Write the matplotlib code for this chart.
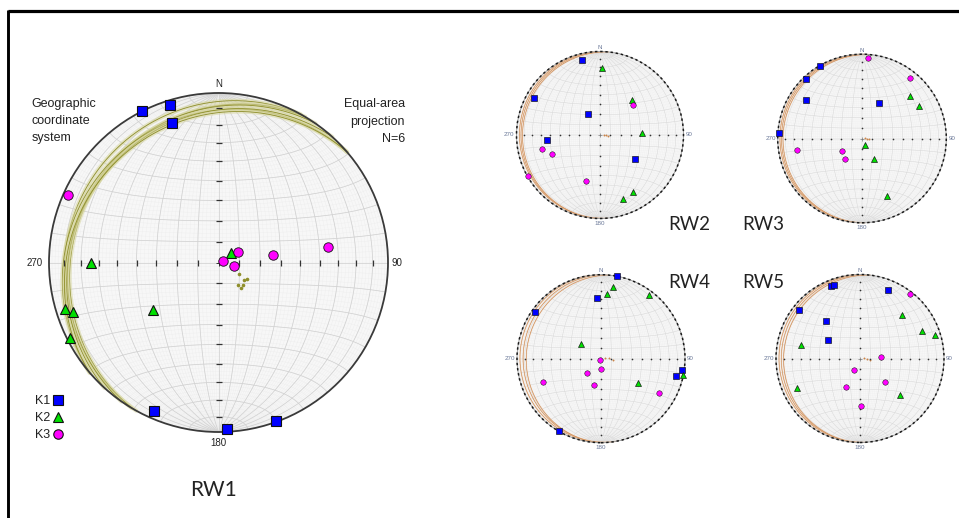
import numpy as np
import matplotlib.pyplot as plt
from matplotlib.patches import Circle

W, H = 959, 518

# principal susceptibility axes, (trend, plunge) in degrees, lower hemisphere
rw1_k1 = [(333, 0), (343, 3), (341.5, 14), (203.4, 5), (177, 2), (160, 0.5)]
rw1_k2 = [(53.6, 82.6), (269.6, 25.8), (253, 5.9), (251.2, 10.2), (243, 2), (233.9, 50.7)]
rw1_k3 = [(294.3, 3), (69, 87.6), (61.4, 79.2), (101.4, 82.3), (81.9, 63.3), (81.8, 35)]
# poles to the magnetic foliation planes
rw1_poles = [(119, 78.6), (120.8, 74.3), (124.9, 75.1), (139.5, 75.8), (132.2, 74), (139.3, 73.6)]

rw2_k1 = [(346.3, 8.2), (299.3, 11), (330.3, 66.3), (265, 36), (124.2, 47.6)]
rw2_k2 = [(2, 21.1), (42.2, 42.3), (87.7, 47.9), (150.2, 22.3), (160.1, 19)]
rw2_k3 = [(47.7, 45), (256.8, 28.9), (248.9, 37.8), (240.2, 0), (196.7, 42.3)]
rw2_poles = [(85, 86), (92, 84), (96, 82)]

rw3_k1 = [(329.9, 0), (316.8, 3.4), (304.6, 21), (25.9, 51.9), (273.5, 1.5)]
rw3_k2 = [(48.3, 24.4), (59.9, 23), (157.2, 83.4), (149.2, 66.7), (156.4, 26.8)]
rw3_k3 = [(4.5, 4.2), (38.4, 8.6), (259.8, 23.2), (238.1, 66.8), (220, 63.9)]
rw3_poles = [(88, 87), (92, 85), (95, 83)]

rw4_k1 = [(11.2, 0), (356.5, 28.8), (305.6, 4.4), (98.2, 3), (102.8, 9.6), (210.3, 0)]
rw4_k2 = [(9.2, 14.2), (5.6, 23.7), (36.9, 5.4), (306.1, 66.3), (101.3, 0), (123.6, 46.5)]
rw4_k3 = [(225, 88.6), (178, 80.4), (224.3, 70.6), (248, 26.9), (195.8, 63.7), (121, 21)]
rw4_poles = [(80, 86), (88, 82), (95, 78)]

rw5_k1 = [(338.3, 7.7), (340.8, 8.4), (22, 13.6), (308.4, 8), (318.2, 39.9), (300.7, 53.6)]
rw5_k2 = [(43.7, 29.2), (66.4, 20), (72.3, 7.4), (283.3, 28.8), (244.7, 18), (132, 35.4)]
rw5_k3 = [(37.7, 4), (86.3, 70), (205.9, 77.5), (133.8, 56.2), (205.5, 59.1), (178.4, 42.5)]
rw5_poles = [(86, 86), (92, 83), (97, 80)]


def project(trend, plunge):
    # Lambert equal-area, unit primitive
    t = np.radians(np.asarray(trend, float))
    p = np.radians(np.asarray(plunge, float))
    e, n, d = np.cos(p) * np.sin(t), np.cos(p) * np.cos(t), np.sin(p)
    return e / np.sqrt(1 + d), n / np.sqrt(1 + d)


def proj_vec(e, n, d):
    return e / np.sqrt(1 + d), n / np.sqrt(1 + d)


def plunge_radius(p):
    return np.sqrt(2) * np.sin(np.radians(90 - p) / 2)


def net_axes(fig, cx, cy, R, pad=1.35):
    ax = fig.add_axes([(cx - pad * R) / W, 1 - (cy + pad * R) / H,
                       2 * pad * R / W, 2 * pad * R / H])
    ax.set_xlim(-pad, pad)
    ax.set_ylim(-pad, pad)
    ax.axis('off')
    return ax


def draw_grid(ax, step, color, lw):
    th = np.linspace(0, np.pi, 361)
    for a in range(step, 180, step):
        ar = np.radians(a)
        # great circles through N and S
        x, y = proj_vec(np.sin(th) * np.cos(ar), np.cos(th), np.sin(th) * np.sin(ar))
        ax.plot(x, y, color=color, lw=lw, zorder=1)
        # small circles about the N-S axis
        x, y = proj_vec(np.sin(ar) * np.cos(th), np.full_like(th, np.cos(ar)), np.sin(ar) * np.sin(th))
        ax.plot(x, y, color=color, lw=lw, zorder=1)


def great_circle(trend, plunge):
    t, p = np.radians(trend), np.radians(plunge)
    th = np.linspace(0, np.pi, 361)
    s = np.array([np.cos(t), -np.sin(t), 0.0])
    u = np.array([-np.sin(p) * np.sin(t), -np.sin(p) * np.cos(t), np.cos(p)])
    v = np.outer(np.cos(th), s) + np.outer(np.sin(th), u)
    return proj_vec(v[:, 0], v[:, 1], v[:, 2])


def draw_net(ax, big):
    ax.add_patch(Circle((0, 0), 1, fc='#f7f7f7', ec='none', zorder=0))
    if big:
        draw_grid(ax, 2, '#ececec', 0.25)
        draw_grid(ax, 10, '#d2d2d2', 0.55)
    else:
        draw_grid(ax, 2, '#efefef', 0.2)
        draw_grid(ax, 10, '#d8d8d8', 0.35)
    r = plunge_radius(np.arange(10, 90, 10))
    r = np.concatenate([-r, r])
    if big:
        ax.plot(r, np.zeros_like(r), '|', color='#333333', ms=4, mew=0.9, zorder=3)
        ax.plot(np.zeros_like(r), r, '_', color='#333333', ms=4, mew=0.9, zorder=3)
        ax.plot(0, 0, '+', color='#333333', ms=5, mew=0.7, zorder=3)
    else:
        ax.plot(r, np.zeros_like(r), 'o', color='#333333', ms=1.2, mew=0, zorder=3)
        ax.plot(np.zeros_like(r), r, 'o', color='#333333', ms=1.2, mew=0, zorder=3)
        ax.plot(0, 0, '+', color='#777777', ms=3, mew=0.5, zorder=3)


def draw_planes(ax, poles, light, dark, wide, thin, dot):
    for tr, pl in poles:
        x, y = great_circle(tr, pl)
        ax.plot(x, y, color=light, lw=wide, alpha=0.55, solid_capstyle='round', zorder=2)
        ax.plot(x, y, color=dark, lw=thin, zorder=2)
        px, py = project(tr, pl)
        ax.plot(px, py, 'o', color=dark, ms=dot, mew=0, zorder=2)


def draw_axes_data(ax, k1, k2, k3, big):
    s = 1.0 if big else 0.58
    for data, mk, fc, ms, mew in [(k1, 's', '#0000ff', 7.4, 0.8),
                                  (k2, '^', '#00e000', 7.6, 0.8),
                                  (k3, 'o', '#ff00ff', 6.8, 0.6)]:
        x, y = project([d[0] for d in data], [d[1] for d in data])
        ax.plot(x, y, mk, mfc=fc, mec='#111111', ms=ms * s, mew=mew * s, ls='none', zorder=5)


fig = plt.figure(figsize=(W / 100, H / 100), dpi=100)

# frame lines and annotation layer in pixel units
bg = fig.add_axes([0, 0, 1, 1])
bg.set_xlim(0, W)
bg.set_ylim(H, 0)
bg.axis('off')
bg.plot([8, W], [11, 11], color='black', lw=2.3, solid_capstyle='butt')
bg.plot([8, 8], [10, H], color='black', lw=2.1, solid_capstyle='butt')

# large net
cx, cy, R = 218.5, 262.5, 169.5
ax1 = net_axes(fig, cx, cy, R)
draw_net(ax1, True)
draw_planes(ax1, rw1_poles, '#d6d59e', '#8e8e2a', 3.0, 0.6, 2.6)
ax1.add_patch(Circle((0, 0), 1, fc='none', ec='#3a3a3a', lw=1.3, zorder=4))
draw_axes_data(ax1, rw1_k1, rw1_k2, rw1_k3, True)

lab = dict(family='Liberation Sans', fontsize=7, color='#222222')
bg.text(cx, 84, 'N', ha='center', va='center', **lab)
bg.text(cx - R - 6, cy, '270', ha='right', va='center', **lab)
bg.text(cx + R + 4, cy, '90', ha='left', va='center', **lab)
bg.text(cx, 443, '180', ha='center', va='center', **lab)

txt = dict(family='Liberation Sans', fontsize=9, color='#222222', va='baseline')
for i, line in enumerate(['Geographic', 'coordinate', 'system']):
    bg.text(31.5, 107.5 + 17 * i, line, ha='left', **txt)
for i, line in enumerate(['Equal-area', 'projection', 'N=6']):
    bg.text(405, 107.5 + 17 * i, line, ha='right', **txt)

# legend keys
for i, (name, mk, fc, ms) in enumerate([('K1', 's', '#0000ff', 7.4),
                                        ('K2', '^', '#00e000', 7.6),
                                        ('K3', 'o', '#ff00ff', 6.8)]):
    yy = 400 + 17 * i
    bg.text(35, yy + 4, name, ha='left', **txt)
    bg.plot(57.5, yy, mk, mfc=fc, mec='#111111', ms=ms, mew=0.8)

# small nets
small = [('RW2', 600, 135, 83.5, rw2_k1, rw2_k2, rw2_k3, rw2_poles),
         ('RW3', 862, 138.5, 84.3, rw3_k1, rw3_k2, rw3_k3, rw3_poles),
         ('RW4', 601, 358.7, 84, rw4_k1, rw4_k2, rw4_k3, rw4_poles),
         ('RW5', 860, 358.5, 84, rw5_k1, rw5_k2, rw5_k3, rw5_poles)]
lab_s = dict(family='Liberation Sans', fontsize=4.5, color='#6a7898')
for name, sx, sy, sr, k1, k2, k3, poles in small:
    ax = net_axes(fig, sx, sy, sr)
    draw_net(ax, False)
    draw_planes(ax, poles, '#f0c8a8', '#c8844a', 1.0, 0.4, 1.4)
    ax.add_patch(Circle((0, 0), 1, fc='none', ec='#a0a0a0', lw=0.7, zorder=4))
    ax.add_patch(Circle((0, 0), 1, fc='none', ec='#1a1a1a', lw=1.1,
                        ls=(0, (1.6, 1.8)), zorder=4))
    draw_axes_data(ax, k1, k2, k3, False)
    bg.text(sx, sy - sr - 4, 'N', ha='center', va='center', **lab_s)
    bg.text(sx - sr - 2, sy, '270', ha='right', va='center', **lab_s)
    bg.text(sx + sr + 2, sy, '90', ha='left', va='center', **lab_s)
    bg.text(sx, sy + sr + 5, '180', ha='center', va='center', **lab_s)

rw = dict(family='Lato', color='#222222', ha='center', va='center')
bg.text(213, 490, 'RW1', fontsize=15, **rw)
bg.text(689, 225, 'RW2', fontsize=13.5, **rw)
bg.text(763, 225, 'RW3', fontsize=13.5, **rw)
bg.text(689, 283, 'RW4', fontsize=13.5, **rw)
bg.text(763, 283, 'RW5', fontsize=13.5, **rw)

fig.savefig('out.png', dpi=100)
